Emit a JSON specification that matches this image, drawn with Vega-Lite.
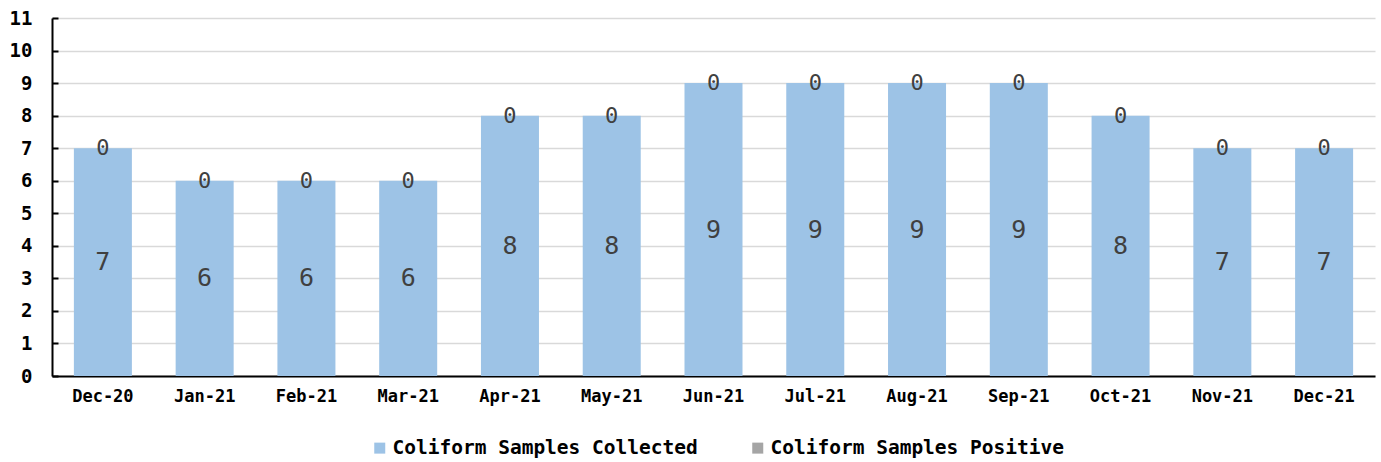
{
  "$schema": "https://vega.github.io/schema/vega-lite/v6.json",
  "width": 1323,
  "height": 358,
  "autosize": {"type": "none"},
  "padding": {"left": 52, "top": 18, "right": 6, "bottom": 86},
  "background": "white",
  "config": {"view": {"stroke": null}, "font": "DejaVu Sans Mono"},
  "data": {"values": [
    {"month": "Dec-20", "series": "Coliform Samples Collected", "ord": 1, "value": 7},
    {"month": "Jan-21", "series": "Coliform Samples Collected", "ord": 1, "value": 6},
    {"month": "Feb-21", "series": "Coliform Samples Collected", "ord": 1, "value": 6},
    {"month": "Mar-21", "series": "Coliform Samples Collected", "ord": 1, "value": 6},
    {"month": "Apr-21", "series": "Coliform Samples Collected", "ord": 1, "value": 8},
    {"month": "May-21", "series": "Coliform Samples Collected", "ord": 1, "value": 8},
    {"month": "Jun-21", "series": "Coliform Samples Collected", "ord": 1, "value": 9},
    {"month": "Jul-21", "series": "Coliform Samples Collected", "ord": 1, "value": 9},
    {"month": "Aug-21", "series": "Coliform Samples Collected", "ord": 1, "value": 9},
    {"month": "Sep-21", "series": "Coliform Samples Collected", "ord": 1, "value": 9},
    {"month": "Oct-21", "series": "Coliform Samples Collected", "ord": 1, "value": 8},
    {"month": "Nov-21", "series": "Coliform Samples Collected", "ord": 1, "value": 7},
    {"month": "Dec-21", "series": "Coliform Samples Collected", "ord": 1, "value": 7},
    {"month": "Dec-20", "series": "Coliform Samples Positive", "ord": 2, "value": 0},
    {"month": "Jan-21", "series": "Coliform Samples Positive", "ord": 2, "value": 0},
    {"month": "Feb-21", "series": "Coliform Samples Positive", "ord": 2, "value": 0},
    {"month": "Mar-21", "series": "Coliform Samples Positive", "ord": 2, "value": 0},
    {"month": "Apr-21", "series": "Coliform Samples Positive", "ord": 2, "value": 0},
    {"month": "May-21", "series": "Coliform Samples Positive", "ord": 2, "value": 0},
    {"month": "Jun-21", "series": "Coliform Samples Positive", "ord": 2, "value": 0},
    {"month": "Jul-21", "series": "Coliform Samples Positive", "ord": 2, "value": 0},
    {"month": "Aug-21", "series": "Coliform Samples Positive", "ord": 2, "value": 0},
    {"month": "Sep-21", "series": "Coliform Samples Positive", "ord": 2, "value": 0},
    {"month": "Oct-21", "series": "Coliform Samples Positive", "ord": 2, "value": 0},
    {"month": "Nov-21", "series": "Coliform Samples Positive", "ord": 2, "value": 0},
    {"month": "Dec-21", "series": "Coliform Samples Positive", "ord": 2, "value": 0}
  ]},
  "encoding": {
    "x": {
      "field": "month", "type": "ordinal", "sort": null,
      "scale": {"paddingInner": 0.43, "paddingOuter": 0.215},
      "axis": {"title": null, "labelAngle": 0, "labelFontWeight": "bold", "labelFontSize": 17, "labelColor": "black", "ticks": false, "domainColor": "black", "domainWidth": 2, "labelPadding": 12}
    }
  },
  "layer": [
    {
      "mark": {"type": "bar"},
      "encoding": {
        "y": {
          "field": "value", "type": "quantitative", "stack": "zero",
          "scale": {"domain": [0, 11], "nice": false},
          "axis": {"title": null, "values": [0,1,2,3,4,5,6,7,8,9,10,11], "labelOverlap": false, "grid": true, "gridColor": "#D9D9D9", "gridWidth": 1.5, "domainColor": "black", "domainWidth": 2, "tickColor": "black", "tickWidth": 2, "tickSize": -6, "labelPadding": 26, "labelFontSize": 19, "labelFontWeight": "bold", "labelColor": "black"}
        },
        "color": {
          "field": "series", "type": "nominal",
          "scale": {"domain": ["Coliform Samples Collected", "Coliform Samples Positive"], "range": ["#9DC3E6", "#A5A5A5"]},
          "legend": {"title": null, "orient": "none", "legendX": 318, "legendY": 420, "direction": "horizontal", "symbolType": "square", "symbolSize": 121, "symbolStrokeWidth": 0, "labelFontSize": 19.5, "labelFontWeight": "bold", "labelColor": "black", "labelOffset": 3, "labelLimit": 0, "columnPadding": 50}
        },
        "order": {"field": "ord"}
      }
    },
    {
      "transform": [
        {"stack": "value", "groupby": ["month"], "sort": [{"field": "ord"}], "as": ["v0", "v1"]},
        {"calculate": "(datum.v0 + datum.v1) / 2", "as": "mid"},
        {"filter": "datum.ord == 1"}
      ],
      "mark": {"type": "text", "fontSize": 25, "color": "#404040", "baseline": "middle"},
      "encoding": {
        "y": {"field": "mid", "type": "quantitative", "scale": {"domain": [0, 11], "nice": false},
          "axis": {"title": null, "values": [0,1,2,3,4,5,6,7,8,9,10,11], "labelOverlap": false, "grid": true, "gridColor": "#D9D9D9", "gridWidth": 1.5, "domainColor": "black", "domainWidth": 2, "tickColor": "black", "tickWidth": 2, "tickSize": -6, "labelPadding": 26, "labelFontSize": 19, "labelFontWeight": "bold", "labelColor": "black"}},
        "text": {"field": "value", "type": "quantitative"}
      }
    },
    {
      "transform": [
        {"stack": "value", "groupby": ["month"], "sort": [{"field": "ord"}], "as": ["v0", "v1"]},
        {"calculate": "(datum.v0 + datum.v1) / 2", "as": "mid"},
        {"filter": "datum.ord == 2"}
      ],
      "mark": {"type": "text", "fontSize": 22, "color": "#404040", "baseline": "middle"},
      "encoding": {
        "y": {"field": "mid", "type": "quantitative", "scale": {"domain": [0, 11], "nice": false},
          "axis": {"title": null, "values": [0,1,2,3,4,5,6,7,8,9,10,11], "labelOverlap": false, "grid": true, "gridColor": "#D9D9D9", "gridWidth": 1.5, "domainColor": "black", "domainWidth": 2, "tickColor": "black", "tickWidth": 2, "tickSize": -6, "labelPadding": 26, "labelFontSize": 19, "labelFontWeight": "bold", "labelColor": "black"}},
        "text": {"field": "value", "type": "quantitative"}
      }
    }
  ]
}
